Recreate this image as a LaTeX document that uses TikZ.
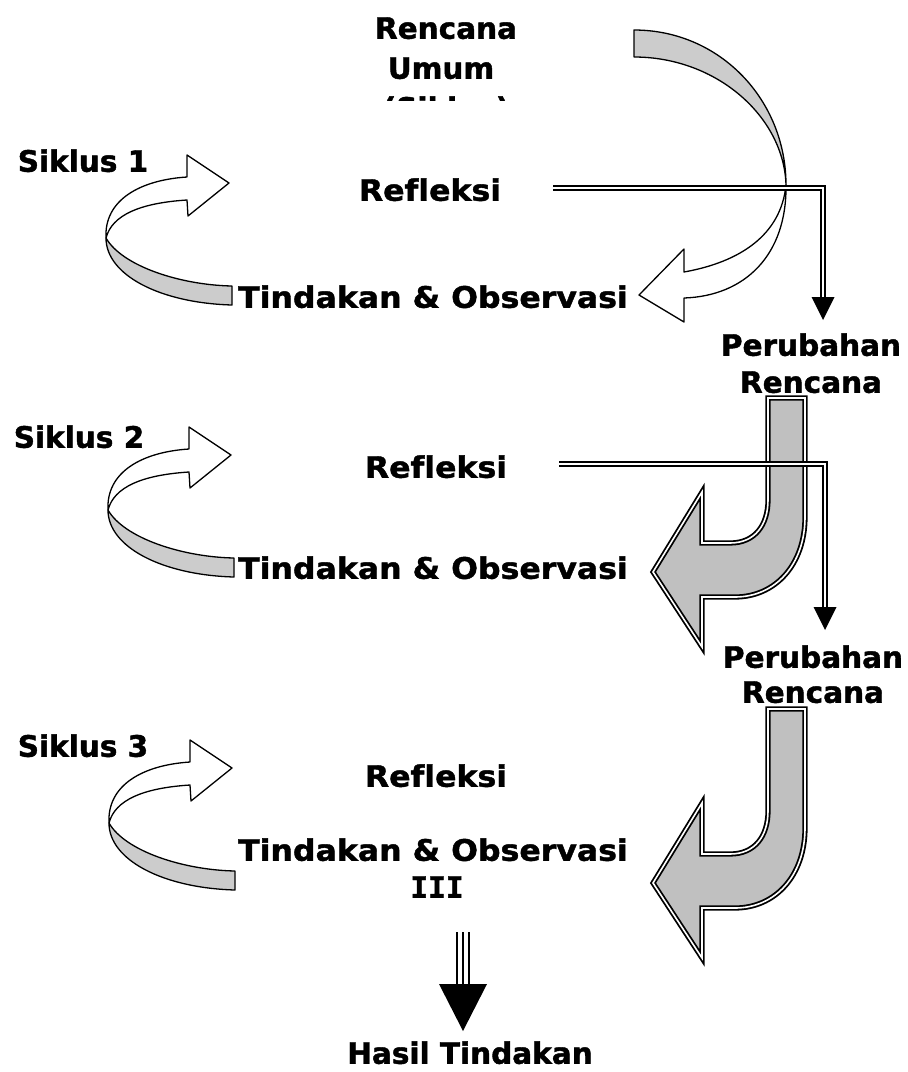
\documentclass[tikz,border=0pt]{standalone}
\usepackage{fontspec}
\setmainfont{DejaVu Sans}[Ligatures=NoCommon, FakeBold=1.4]
\newfontfamily\widefam{DejaVu Sans}[Ligatures=NoCommon, FakeStretch=1.07, FakeBold=1.4]
\newfontfamily\monofam{DejaVu Sans Mono}[FakeBold=1.4]
\definecolor{jgray}{RGB}{192,192,192}
\definecolor{bgray}{RGB}{204,204,204}
\begin{document}
\begin{tikzpicture}[x=1pt,y=-1pt,
  lbl/.style={font=\fontsize{29.5}{34}\selectfont\bfseries, inner sep=0pt, text height=21.5pt, text depth=0pt, anchor=center},
  wlbl/.style={lbl, font=\fontsize{29.5}{34}\selectfont\widefam\bfseries},
  ribbon/.style={draw=black, line width=1.3pt, line join=round},
  jstyle/.style={draw=black, fill=jgray, line width=1.8pt, double=white, double distance=1.6pt, line join=miter},
  dbl/.style={draw=black, line width=1.7pt, double=white, double distance=2.6pt, line join=miter},
  head/.style={fill=black},
  cyc/.pic={
    \draw[ribbon, fill=white] (106,238) .. controls (104,200) and (140,180) .. (187,177) -- (187,155) -- (229,183) -- (188,216) -- (187,200) .. controls (140,203) and (112,215) .. (106,238) -- cycle;
    \draw[ribbon, fill=bgray] (106,238) .. controls (122,266) and (180,285) .. (232,286) -- (232,305) .. controls (160,303) and (106,275) .. (106,238) -- cycle;
  },
  jarrow/.pic={
    \draw[jstyle] (768,398) -- (805,398) -- (805,517) .. controls (805,565) and (775,597) .. (735,597) -- (702,597) -- (702,647) -- (653,572) -- (702,492) -- (702,543) -- (730,543) .. controls (755,543) and (768,525) .. (768,500) -- cycle;
  }]
\useasboundingbox (0,0) rectangle (908,1072);
\fill[white] (0,0) rectangle (908,1072);

% title (third line cut off)
\node[lbl] (t1) at (446,28) {Rencana};
\node[lbl] (t2) at (441,68) {Umum};
\begin{scope}
  \clip (300,0) rectangle (600,100);
  \node[lbl] (t3) at (446,108) {(Siklus)};
\end{scope}

% top curved arrow
\draw[ribbon, fill=bgray] (634,30) .. controls (720,30) and (786,100) .. (786,185) .. controls (784,117) and (717,57) .. (634,57) -- cycle;
\draw[ribbon, fill=white] (786,185) .. controls (787,255) and (745,296) .. (684,298) -- (684,322) -- (639,295) -- (684,249) -- (684,272) .. controls (740,262) and (781,235) .. (786,185) -- cycle;

% J arrows
\pic at (0,0) {jarrow};
\pic at (0,311) {jarrow};

% cycle arrows
\pic at (0,0) {cyc};
\pic at (2,272) {cyc};
\pic at (3,585) {cyc};

% labels
\node[lbl] (s1) at (83,161) {Siklus 1};
\node[wlbl] (r1) at (430,190) {Refleksi};
\node[wlbl] (o1) at (433,297) {Tindakan \& Observasi};
\node[lbl] (p1) at (811,345) {Perubahan};
\node[lbl] (q1) at (811,382) {Rencana};

\node[lbl] (s2) at (79,437) {Siklus 2};
\node[wlbl] (r2) at (436,467) {Refleksi};
\node[wlbl] (o2) at (433,568) {Tindakan \& Observasi};
\node[lbl] (p2) at (813,657) {Perubahan};
\node[lbl] (q2) at (813,692) {Rencana};

\node[lbl] (s3) at (83,746) {Siklus 3};
\node[wlbl] (r3) at (436,776) {Refleksi};
\node[wlbl] (o3) at (433,850) {Tindakan \& Observasi};
\node[lbl, font=\fontsize{29.5}{34}\selectfont\monofam\bfseries] (i3) at (437,887) {III};

\node[lbl] (h) at (470,1053) {Hasil Tindakan};

% double line arrows
\coordinate (a1s) at (553,188);
\coordinate (a1e) at (823,297);
\draw[dbl] (a1s) -| (a1e);
\fill[head] (a1e) ++(-11.5,0) -- ++(23,0) -- ++(-11.5,23) -- cycle;

\coordinate (a2s) at (559,464);
\coordinate (a2e) at (825,607);
\draw[dbl] (a2s) -| (a2e);
\fill[head] (a2e) ++(-11.5,0) -- ++(23,0) -- ++(-11.5,23) -- cycle;

% final triple arrow
\coordinate (b1) at (463,932);
\coordinate (b2) at (463,984);
\foreach \dx in {-6,0,6} \draw[line width=2.2pt] ([xshift=\dx pt]b1) -- ([xshift=\dx pt]b2);
\fill[head] (b2) ++(-24,0) -- ++(48,0) -- ++(-24,47) -- cycle;
\end{tikzpicture}
\end{document}
